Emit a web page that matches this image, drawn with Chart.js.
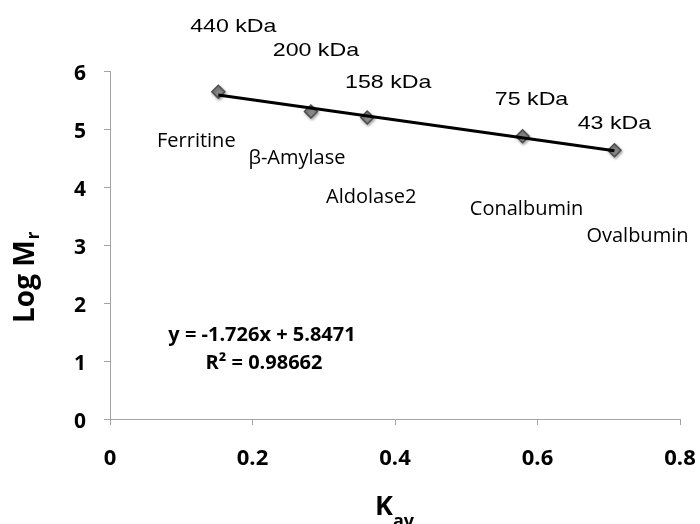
<!DOCTYPE html>
<html>
<head>
<meta charset="utf-8">
<script src="https://cdn.jsdelivr.net/npm/chart.js@4.4.0/dist/chart.umd.min.js"></script>
<style>
  html, body { margin: 0; padding: 0; background: #fff; }
</style>
</head>
<body>
<canvas id="chart" width="700" height="524"></canvas>
<script>
// calibration standards (gel filtration)
const proteins = ["Ferritine", "β-Amylase", "Aldolase2", "Conalbumin", "Ovalbumin"];
const massLabels = ["440 kDa", "200 kDa", "158 kDa", "75 kDa", "43 kDa"];
const kav = [0.152, 0.282, 0.361, 0.579, 0.708];
const logMr = [5.643, 5.301, 5.199, 4.875, 4.633];

// linear fit
const slope = -1.726;
const intercept = 5.8471;
const rSquared = 0.98662;

const xTicks = [0, 0.2, 0.4, 0.6, 0.8];
const yTicks = [0, 1, 2, 3, 4, 5, 6];

// label offsets from each point, in px: [dx, dy]
const massOffsets = [[15, -65], [5, -61], [21, -35], [9, -36], [0, -27]];
const nameOffsets = [[-22, 50], [-14, 47], [4, 80], [4, 73], [23, 86]];

const AXIS_GREY = "#a3a3a3";

function drawText(ctx, text, x, y, font, stretch, align) {
  ctx.save();
  ctx.font = font;
  ctx.fillStyle = "#000";
  ctx.textAlign = align || "center";
  ctx.textBaseline = "middle";
  ctx.translate(x, y);
  ctx.scale(stretch || 1, 1);
  ctx.fillText(text, 0, 0);
  ctx.restore();
}

const markerShadow = {
  id: "markerShadow",
  beforeDatasetDraw(chart, args) {
    if (args.index !== 1) return;
    const ctx = chart.ctx;
    ctx.save();
    ctx.shadowColor = "rgba(0,0,0,0.35)";
    ctx.shadowBlur = 3;
    ctx.shadowOffsetX = 1;
    ctx.shadowOffsetY = 1.5;
  },
  afterDatasetDraw(chart, args) {
    if (args.index !== 1) return;
    chart.ctx.restore();
  },
};

const annotations = {
  id: "annotations",
  afterDraw(chart) {
    const ctx = chart.ctx;
    const xs = chart.scales.x;
    const ys = chart.scales.y;

    // tick labels
    yTicks.forEach((v) => {
      drawText(ctx, String(v), xs.left - 24, ys.getPixelForValue(v) + 3, "bold 21px 'Open Sans'", 1, "right");
    });
    xTicks.forEach((v) => {
      drawText(ctx, String(v), xs.getPixelForValue(v), 459, "bold 22px 'Open Sans'", 1, "center");
    });

    // point labels
    kav.forEach((x, i) => {
      const px = xs.getPixelForValue(x);
      const py = ys.getPixelForValue(logMr[i]);
      drawText(ctx, massLabels[i], px + massOffsets[i][0], py + massOffsets[i][1], "19px 'Liberation Sans'", 1.22);
      drawText(ctx, proteins[i], px + nameOffsets[i][0], py + nameOffsets[i][1], "20px 'Open Sans'", 1);
    });

    // fit equation
    const eq = "y = " + slope + "x + " + intercept;
    drawText(ctx, eq, 262, 335, "bold 20px 'Open Sans'", 1);
    drawText(ctx, "R² = " + rSquared, 264, 363, "bold 20px 'Open Sans'", 1);

    // y axis title: Log Mr
    ctx.save();
    ctx.translate(34, 323);
    ctx.rotate(-Math.PI / 2);
    ctx.fillStyle = "#000";
    ctx.textAlign = "left";
    ctx.textBaseline = "alphabetic";
    ctx.font = "bold 28px 'Open Sans'";
    const mainW = ctx.measureText("Log M").width;
    ctx.fillText("Log M", 0, 0);
    ctx.font = "bold 17px 'Open Sans'";
    ctx.fillText("r", mainW + 1, 5);
    ctx.restore();

    // x axis title: Kav
    ctx.save();
    ctx.fillStyle = "#000";
    ctx.textAlign = "left";
    ctx.textBaseline = "alphabetic";
    ctx.font = "bold 27px 'Open Sans'";
    const kW = ctx.measureText("K").width;
    ctx.fillText("K", 375, 515);
    ctx.font = "bold 18px 'Open Sans'";
    ctx.fillText("av", 375 + kW, 527);
    ctx.restore();
  },
};

const fitLine = [kav[0], kav[kav.length - 1]].map((x) => ({ x: x, y: slope * x + intercept }));

new Chart(document.getElementById("chart").getContext("2d"), {
  type: "scatter",
  data: {
    datasets: [
      {
        type: "line",
        data: fitLine,
        borderColor: "#000",
        borderWidth: 3,
        pointRadius: 0,
        fill: false,
        order: 0,
      },
      {
        data: kav.map((x, i) => ({ x: x, y: logMr[i] })),
        pointStyle: "rectRot",
        pointRadius: 6.5,
        backgroundColor: "#8a8a8a",
        borderColor: "#4d4d4d",
        borderWidth: 1.5,
        order: 1,
      },
    ],
  },
  options: {
    responsive: false,
    animation: false,
    layout: { padding: { top: 71, right: 20, left: 0, bottom: 0 } },
    plugins: { legend: { display: false }, tooltip: { enabled: false } },
    scales: {
      x: {
        type: "linear",
        min: 0,
        max: 0.8,
        afterBuildTicks: (s) => { s.ticks = xTicks.map((v) => ({ value: v })); },
        afterFit: (s) => { s.height = 105; },
        ticks: { display: false },
        grid: { drawOnChartArea: false, tickLength: 6, color: AXIS_GREY },
        border: { color: AXIS_GREY, width: 1 },
      },
      y: {
        type: "linear",
        min: 0,
        max: 6,
        afterBuildTicks: (s) => { s.ticks = yTicks.map((v) => ({ value: v })); },
        afterFit: (s) => { s.width = 110; },
        ticks: { display: false },
        grid: { drawOnChartArea: false, tickLength: 6, color: AXIS_GREY },
        border: { color: AXIS_GREY, width: 1 },
      },
    },
  },
  plugins: [markerShadow, annotations],
});
</script>
</body>
</html>
